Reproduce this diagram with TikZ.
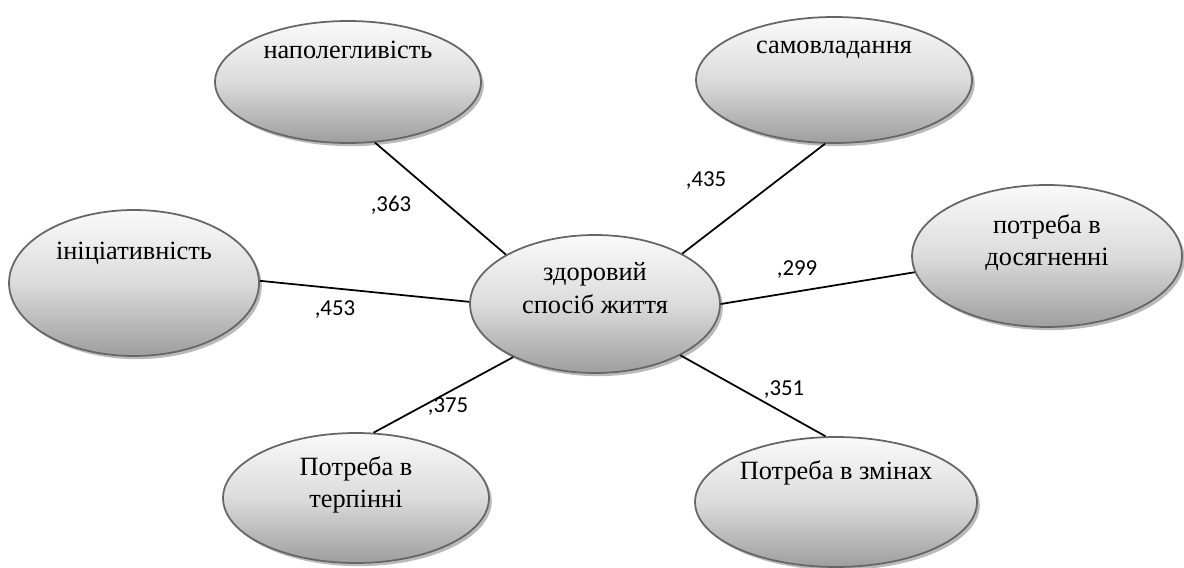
\documentclass[tikz,border=0pt]{standalone}
\usepackage{fontspec}
\setmainfont{Liberation Serif}
\newfontfamily\numfont{Carlito}
\usetikzlibrary{shapes.geometric}
\usetikzlibrary{shadows}

\begin{document}
\begin{tikzpicture}[
        x=0.02cm, y=-0.02cm,
        bubble/.style={ellipse, draw=black!60, line width=1pt, top color=black!2, bottom color=black!38, middle color=black!14,
            drop shadow={shadow xshift=1.6pt, shadow yshift=-1.8pt, fill=black!45, opacity=0.6},
            inner sep=0pt, align=center, font=\fontsize{15}{18.4}\selectfont},
        link/.style={line width=1pt},
        coef/.style={font=\numfont\fontsize{13}{15}\selectfont, inner sep=0pt}
        ]
        \useasboundingbox (0,0) rectangle (1184,568);

        % Ellipses
        \node (health)     [bubble, minimum width=5cm, minimum height=2.76cm]    at (595,304) {здоровий\\спосіб життя\\\mbox{}};
        \node (persist)    [bubble, minimum width=5.32cm, minimum height=2.44cm] at (348,82)  {наполегливість\\\mbox{}\\\mbox{}};
        \node (control)    [bubble, minimum width=5.52cm, minimum height=2.52cm] at (834,80)  {самовладання\\\mbox{}\\\mbox{}};
        \node (initiative) [bubble, minimum width=5cm, minimum height=2.92cm]    at (134,283) {ініціативність\\\mbox{}\\\mbox{}};
        \node (achieve)    [bubble, minimum width=5.4cm, minimum height=2.84cm]  at (1047,256) {потреба в\\досягненні\\\mbox{}};
        \node (patience)   [bubble, minimum width=5.32cm, minimum height=2.6cm]  at (356,498) {Потреба в\\терпінні\\\mbox{}};
        \node (change)     [bubble, minimum width=5.64cm, minimum height=2.6cm, inner xsep=-6pt] at (836,502) {Потреба в змінах\\\mbox{}\\\mbox{}};

        % Connectors
        \draw[link] (persist.-66)    -- (health.151);
        \draw[link] (control.-98)    -- (health.30);
        \draw[link] (initiative.1)   -- (health.179);
        \draw[link] (achieve.187)    -- (health.0);
        \draw[link] (patience.75)    -- (health.213);
        \draw[link] (change.99)      -- (health.-31);

        % Coefficients
        \node (c363) [coef] at (391,205) {,363};
        \node (c435) [coef] at (706,181) {,435};
        \node (c453) [coef] at (335,310) {,453};
        \node (c299) [coef] at (797,270) {,299};
        \node (c375) [coef] at (448,407) {,375};
        \node (c351) [coef] at (784,390) {,351};

    \end{tikzpicture}
\end{document}
